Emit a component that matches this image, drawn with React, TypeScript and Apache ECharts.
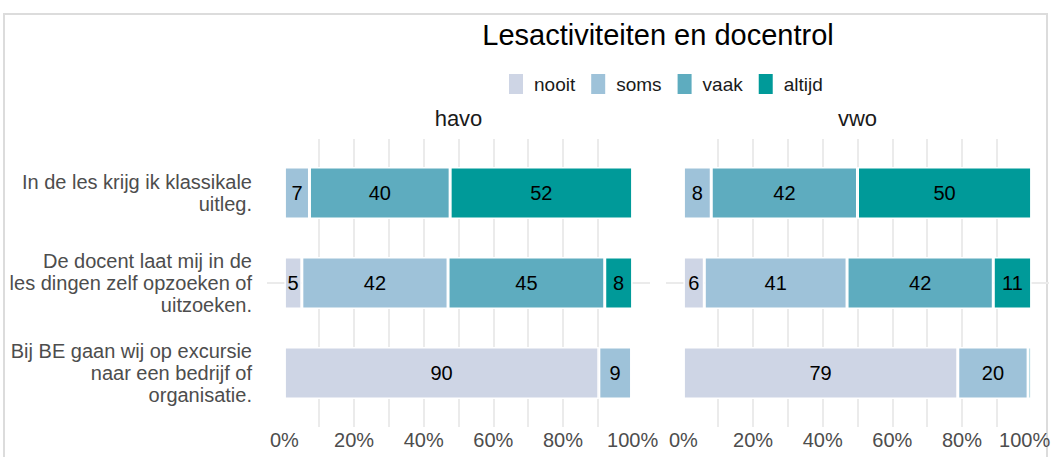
import React, { useEffect, useRef } from "react";
import * as echarts from "echarts";

const title = "Lesactiviteiten en docentrol";
const panels = ["havo", "vwo"];
const categories = [
  "In de les krijg ik klassikale\nuitleg.",
  "De docent laat mij in de\nles dingen zelf opzoeken of\nuitzoeken.",
  "Bij BE gaan wij op excursie\nnaar een bedrijf of\norganisatie.",
];
const answers = ["nooit", "soms", "vaak", "altijd"];
const colors = ["#CED5E5", "#9EC2D9", "#5EACBF", "#009A99"];

// values per answer, per category (percent)
const havoNooit = [0, 5, 90.3];
const havoSoms = [7.2, 42, 9.4];
const havoVaak = [40.4, 45, 0.3];
const havoAltijd = [52.4, 8, 0];

const vwoNooit = [0, 6, 78.8];
const vwoSoms = [8, 41, 20.2];
const vwoVaak = [42, 42, 1.0];
const vwoAltijd = [50, 11, 0];

const xTicks = [0, 10, 20, 30, 40, 50, 60, 70, 80, 90, 100];
const xLabels = [0, 20, 40, 60, 80, 100];
const rowPositions = [1, 2, 3];

const FONT = "Liberation Sans";
const GRID_COLOR = "#EBEBEB";
const AXIS_TEXT = "#4D4D4D";

export default function App() {
  const ref = useRef<HTMLDivElement>(null);
  useEffect(() => {
    if (!ref.current) return;
    const chart = echarts.init(ref.current, undefined, { renderer: "svg" });
    const panelData = [
      [havoNooit, havoSoms, havoVaak, havoAltijd],
      [vwoNooit, vwoSoms, vwoVaak, vwoAltijd],
    ];
    const lefts = [267, 666];
    const panelW = 383;
    // grids 0,1: bar panels; grids 2,3: background panels (gridlines, panel expansion)
    const base = { outerBoundsMode: "none", containLabel: false };
    const grids = [
      { ...base, left: lefts[0], top: 148, width: panelW, height: 270 },
      { ...base, left: lefts[1], top: 148, width: panelW, height: 270 },
      { ...base, left: lefts[0], top: 139, width: panelW, height: 288 },
      { ...base, left: lefts[1], top: 139, width: panelW, height: 288 },
    ];
    const series: any[] = [];
    panelData.forEach((arrs, p) => {
      arrs.forEach((vals, i) => {
        series.push({
          type: "bar",
          name: answers[i],
          stack: "s" + p,
          xAxisIndex: p,
          yAxisIndex: p,
          barWidth: 52,
          z: 5,
          itemStyle: { color: colors[i], borderColor: "#ffffff", borderWidth: 1.5 },
          label: {
            show: true,
            position: "inside",
            color: "#000000",
            fontSize: 20,
            fontFamily: FONT,
            formatter: (d: any) => (d.value >= 3 ? String(Math.round(d.value)) : ""),
          },
          data: vals,
        });
      });
    });
    const xAxes: any[] = [];
    const yAxes: any[] = [];
    [0, 1].forEach((i) => {
      xAxes.push({
        type: "value",
        gridIndex: i,
        min: -5,
        max: 105,
        axisLine: { show: false },
        axisTick: { show: false },
        splitLine: { show: false },
        axisLabel: {
          customValues: xLabels,
          formatter: (v: number) =>
            i === 1 && v === 100 ? "{last|" + v + "%}" : v + "%",
          rich: {
            last: {
              fontSize: 20,
              fontFamily: FONT,
              color: AXIS_TEXT,
              padding: [0, 14, 0, 0],
            },
          },
          fontSize: 20,
          fontFamily: FONT,
          color: AXIS_TEXT,
          margin: 12,
          hideOverlap: false,
        },
      });
      yAxes.push({
        type: "category",
        gridIndex: i,
        inverse: true,
        data: categories,
        axisLine: { show: false },
        axisTick: { show: false },
        splitLine: { show: false },
        axisLabel: {
          show: i === 0,
          fontSize: 20,
          lineHeight: 22,
          fontFamily: FONT,
          color: AXIS_TEXT,
          align: "right",
          margin: 15,
        },
      });
    });
    [2, 3].forEach((i) => {
      xAxes.push({
        type: "value",
        gridIndex: i,
        min: -5,
        max: 105,
        axisLine: { show: false },
        axisTick: { show: false, customValues: xTicks },
        axisLabel: { show: false },
        splitLine: {
          show: true,
          showMinLine: false,
          showMaxLine: false,
          lineStyle: { color: GRID_COLOR, width: 2 },
        },
      });
      yAxes.push({
        type: "value",
        gridIndex: i,
        inverse: true,
        min: 0.4,
        max: 3.6,
        axisLine: { show: false },
        axisTick: { show: false, customValues: rowPositions },
        axisLabel: { show: false },
        splitLine: {
          show: true,
          showMinLine: false,
          showMaxLine: false,
          lineStyle: { color: GRID_COLOR, width: 2 },
        },
      });
    });
    const option: any = {
      animation: false,
      graphic: [
        {
          type: "rect",
          shape: { x: 4, y: 14, width: 1043, height: 470 },
          style: { fill: "none", stroke: "#DCDCDC", lineWidth: 2 },
          silent: true,
        },
        {
          type: "text",
          x: 658,
          y: 35,
          style: {
            text: title,
            textAlign: "center",
            textVerticalAlign: "middle",
            fontSize: 29,
            fontFamily: FONT,
            fill: "#000000",
          },
        },
        ...panels.map((p, i) => ({
          type: "text",
          x: lefts[i] + panelW / 2,
          y: 118,
          style: {
            text: p,
            textAlign: "center",
            textVerticalAlign: "middle",
            fontSize: 22,
            fontFamily: FONT,
            fill: "#1A1A1A",
          },
        })),
      ],
      legend: {
        data: answers,
        left: 507,
        top: 72,
        padding: 0,
        itemWidth: 16,
        itemHeight: 22,
        itemGap: 14,
        icon: "rect",
        textStyle: {
          fontSize: 19,
          fontFamily: FONT,
          color: "#1A1A1A",
          padding: [0, 0, 0, 5],
        },
      },
      grid: grids,
      xAxis: xAxes,
      yAxis: yAxes,
      series,
    };
    chart.setOption(option);
    return () => chart.dispose();
  }, []);
  return (
    <div
      ref={ref}
      style={{ position: "fixed", left: 0, top: 0, width: 1051, height: 457, background: "#fff" }}
    />
  );
}
